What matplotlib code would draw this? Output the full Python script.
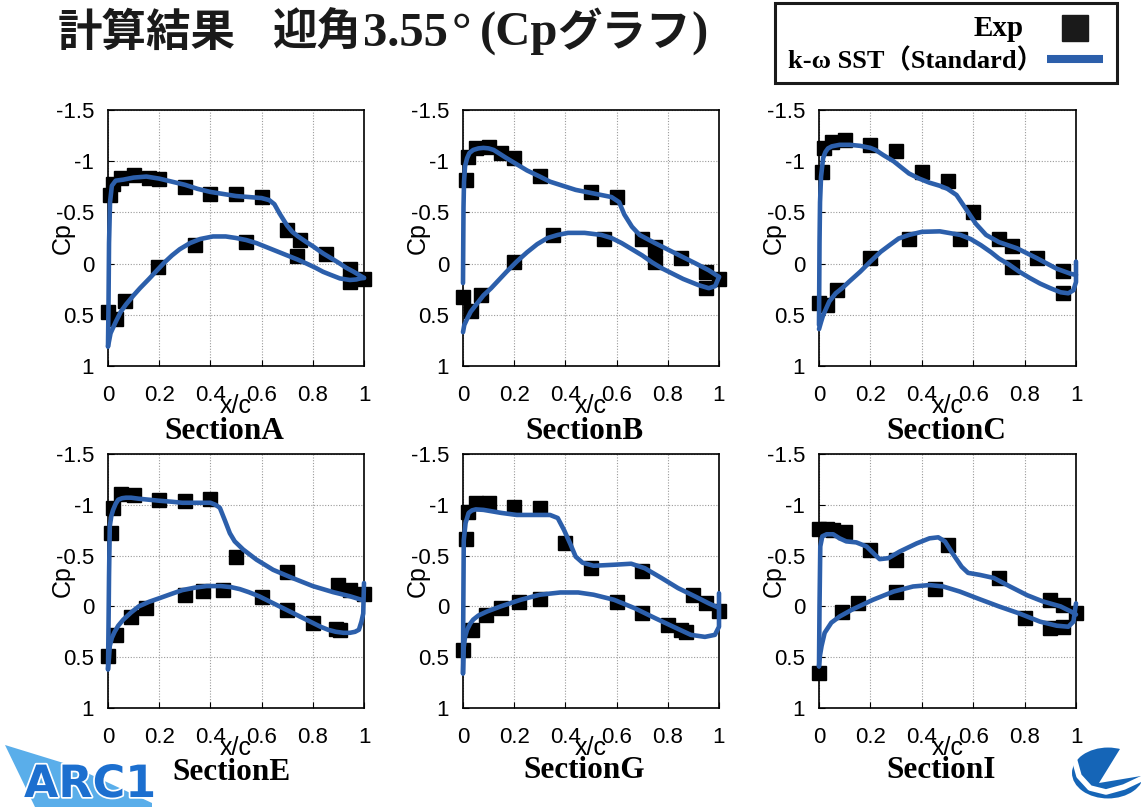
import matplotlib
matplotlib.use("Agg")
import matplotlib.pyplot as plt
import matplotlib.patheffects as pe
from matplotlib.patches import Rectangle, Circle, Polygon
from matplotlib.lines import Line2D

# ---- data ----
A_exp_x = [0.007, 0.02, 0.05, 0.10, 0.16, 0.20, 0.30, 0.40, 0.50, 0.60, 0.70, 0.75, 0.85, 0.945, 1.0,
           0.0, 0.03, 0.065, 0.195, 0.34, 0.54, 0.74, 0.945]
A_exp_cp = [-0.67, -0.78, -0.84, -0.87, -0.84, -0.83, -0.75, -0.68, -0.68, -0.65, -0.33, -0.23, -0.09, 0.05, 0.15,
            0.47, 0.54, 0.37, 0.03, -0.18, -0.21, -0.07, 0.18]
A_up_x = [0.0, 0.002, 0.004, 0.008, 0.015, 0.03, 0.06, 0.10, 0.15, 0.20, 0.25, 0.30, 0.35, 0.40, 0.45, 0.50,
          0.55, 0.60, 0.63, 0.65, 0.67, 0.70, 0.72, 0.74, 0.775, 0.80, 0.84, 0.88, 0.906, 0.93, 0.96, 0.98, 1.0]
A_up_cp = [0.81, 0.4, -0.2, -0.6, -0.76, -0.81, -0.82, -0.84, -0.85, -0.83, -0.80, -0.77, -0.73, -0.70, -0.68,
           -0.66, -0.65, -0.64, -0.62, -0.58, -0.49, -0.37, -0.31, -0.27, -0.21, -0.17, -0.10, -0.04, 0.0, 0.04,
           0.08, 0.11, 0.14]
A_lo_x = [0.0, 0.01, 0.03, 0.05, 0.07, 0.10, 0.125, 0.16, 0.19, 0.22, 0.25, 0.28, 0.32, 0.36, 0.41, 0.46, 0.50,
          0.54, 0.58, 0.62, 0.66, 0.70, 0.74, 0.776, 0.81, 0.84, 0.87, 0.906, 0.945, 0.97, 0.985, 1.0]
A_lo_cp = [0.81, 0.68, 0.57, 0.47, 0.40, 0.31, 0.24, 0.15, 0.07, -0.01, -0.08, -0.14, -0.20, -0.24, -0.265,
           -0.265, -0.25, -0.23, -0.20, -0.16, -0.12, -0.08, -0.04, 0.0, 0.04, 0.08, 0.11, 0.145, 0.16, 0.155,
           0.145, 0.14]

B_exp_x = [0.01, 0.02, 0.05, 0.10, 0.15, 0.20, 0.30, 0.50, 0.60, 0.70, 0.75, 0.85, 0.95, 1.0,
           0.0, 0.03, 0.07, 0.20, 0.35, 0.55, 0.75, 0.95]
B_exp_cp = [-0.815, -1.04, -1.125, -1.14, -1.08, -1.03, -0.86, -0.70, -0.65, -0.245, -0.16, -0.05, 0.08, 0.146,
            0.33, 0.46, 0.31, -0.02, -0.28, -0.24, -0.02, 0.24]
B_up_x = [0.0, 0.001, 0.002, 0.004, 0.008, 0.016, 0.025, 0.04, 0.06, 0.08, 0.10, 0.12, 0.145, 0.17, 0.21, 0.25,
          0.30, 0.34, 0.39, 0.44, 0.51, 0.58, 0.61, 0.63, 0.66, 0.69, 0.72, 0.75, 0.79, 0.83, 0.87, 0.91, 0.96, 1.0]
B_up_cp = [0.19, -0.2, -0.55, -0.8, -0.95, -1.03, -1.08, -1.11, -1.125, -1.13, -1.125, -1.11, -1.07, -1.03,
           -0.97, -0.91, -0.85, -0.80, -0.76, -0.72, -0.685, -0.65, -0.60, -0.48, -0.36, -0.28, -0.24, -0.20,
           -0.15, -0.10, -0.05, 0.0, 0.065, 0.13]
B_lo_x = [0.0, 0.005, 0.016, 0.03, 0.055, 0.08, 0.11, 0.14, 0.17, 0.21, 0.25, 0.29, 0.33, 0.37, 0.41, 0.475,
          0.54, 0.58, 0.62, 0.66, 0.70, 0.74, 0.78, 0.82, 0.86, 0.89, 0.92, 0.96, 0.985, 1.0]
B_lo_cp = [0.67, 0.60, 0.54, 0.47, 0.39, 0.31, 0.24, 0.16, 0.08, -0.02, -0.11, -0.19, -0.25, -0.28, -0.30, -0.30,
           -0.28, -0.25, -0.20, -0.14, -0.08, -0.01, 0.05, 0.10, 0.15, 0.18, 0.21, 0.24, 0.22, 0.13]

C_exp_x = [0.01, 0.02, 0.05, 0.10, 0.20, 0.30, 0.40, 0.50, 0.60, 0.70, 0.75, 0.85, 0.95,
           0.0, 0.03, 0.07, 0.20, 0.35, 0.55, 0.75, 0.95]
C_exp_cp = [-0.897, -1.125, -1.19, -1.21, -1.16, -1.10, -0.89, -0.81, -0.50, -0.24, -0.17, -0.05, 0.075,
            0.38, 0.40, 0.26, -0.05, -0.24, -0.24, 0.03, 0.29]
C_up_x = [0.0, 0.002, 0.004, 0.008, 0.016, 0.025, 0.035, 0.05, 0.08, 0.12, 0.16, 0.20, 0.22, 0.25, 0.29, 0.32,
          0.35, 0.39, 0.43, 0.47, 0.50, 0.535, 0.57, 0.61, 0.65, 0.70, 0.77, 0.85, 0.925, 0.98, 1.0]
C_up_cp = [0.60, -0.2, -0.6, -0.85, -1.03, -1.09, -1.125, -1.145, -1.16, -1.16, -1.15, -1.13, -1.11, -1.06,
           -1.0, -0.94, -0.88, -0.83, -0.79, -0.76, -0.73, -0.67, -0.54, -0.39, -0.28, -0.21, -0.15, -0.05, 0.05,
           0.10, 0.11]
C_lo_x = [0.0, 0.008, 0.016, 0.04, 0.065, 0.09, 0.12, 0.16, 0.20, 0.24, 0.28, 0.31, 0.35, 0.40, 0.47, 0.55,
          0.59, 0.63, 0.67, 0.70, 0.74, 0.78, 0.82, 0.86, 0.90, 0.94, 0.97, 0.99, 1.0, 1.0]
C_lo_cp = [0.64, 0.57, 0.505, 0.37, 0.29, 0.24, 0.17, 0.08, -0.02, -0.115, -0.19, -0.245, -0.28, -0.31, -0.315,
           -0.28, -0.24, -0.18, -0.11, -0.05, 0.01, 0.08, 0.14, 0.195, 0.24, 0.28, 0.29, 0.26, 0.18, -0.02]

E_exp_x = [0.01, 0.02, 0.05, 0.10, 0.20, 0.30, 0.40, 0.50, 0.70, 0.90, 0.945, 1.0,
           0.0, 0.03, 0.09, 0.15, 0.30, 0.37, 0.45, 0.60, 0.70, 0.80, 0.89, 0.905]
E_exp_cp = [-0.727, -0.966, -1.107, -1.10, -1.05, -1.04, -1.06, -0.49, -0.34, -0.21, -0.16, -0.12,
            0.49, 0.28, 0.10, 0.017, -0.114, -0.147, -0.163, -0.097, 0.04, 0.16, 0.22, 0.23]
E_up_x = [0.0, 0.002, 0.004, 0.007, 0.013, 0.02, 0.03, 0.04, 0.055, 0.07, 0.09, 0.12, 0.16, 0.20, 0.25, 0.29,
          0.33, 0.36, 0.40, 0.42, 0.437, 0.456, 0.476, 0.495, 0.528, 0.58, 0.645, 0.72, 0.80, 0.88, 0.945, 0.99]
E_up_cp = [0.62, 0.2, -0.3, -0.79, -0.89, -0.95, -1.01, -1.05, -1.065, -1.07, -1.07, -1.06, -1.05, -1.04, -1.03,
           -1.02, -1.02, -1.02, -1.02, -1.0, -0.97, -0.85, -0.72, -0.64, -0.56, -0.46, -0.36, -0.28, -0.20, -0.14,
           -0.10, -0.065]
E_lo_x = [0.0, 0.004, 0.007, 0.015, 0.026, 0.04, 0.06, 0.09, 0.12, 0.16, 0.20, 0.25, 0.29, 0.34, 0.385, 0.44,
          0.48, 0.515, 0.55, 0.59, 0.63, 0.67, 0.71, 0.75, 0.79, 0.83, 0.86, 0.89, 0.92, 0.945, 0.965, 0.98, 0.99,
          0.997, 1.0]
E_lo_cp = [0.62, 0.5, 0.39, 0.31, 0.25, 0.19, 0.13, 0.06, 0.0, -0.045, -0.08, -0.125, -0.16, -0.185, -0.20,
           -0.20, -0.19, -0.17, -0.14, -0.10, -0.05, 0.0, 0.05, 0.10, 0.15, 0.20, 0.23, 0.25, 0.26, 0.26, 0.25,
           0.23, 0.15, 0.07, -0.23]

G_exp_x = [0.01, 0.02, 0.05, 0.10, 0.20, 0.30, 0.40, 0.50, 0.70, 0.90, 0.95, 1.0,
           0.0, 0.035, 0.09, 0.15, 0.22, 0.30, 0.60, 0.70, 0.80, 0.85, 0.87]
G_exp_cp = [-0.66, -0.93, -1.015, -1.015, -0.98, -0.966, -0.62, -0.38, -0.353, -0.114, -0.03, 0.05,
            0.43, 0.237, 0.08, 0.017, -0.04, -0.074, -0.04, 0.066, 0.18, 0.23, 0.256]
G_up_x = [0.0, 0.001, 0.003, 0.01, 0.022, 0.035, 0.05, 0.08, 0.15, 0.21, 0.28, 0.34, 0.37, 0.395, 0.42, 0.44,
          0.467, 0.51, 0.59, 0.657, 0.71, 0.775, 0.84, 0.905, 0.96, 0.995]
G_up_cp = [0.66, 0.1, -0.65, -0.82, -0.92, -0.945, -0.955, -0.95, -0.92, -0.90, -0.90, -0.90, -0.87, -0.75,
           -0.61, -0.49, -0.43, -0.40, -0.41, -0.42, -0.376, -0.28, -0.18, -0.10, -0.03, 0.01]
G_lo_x = [0.0, 0.003, 0.008, 0.016, 0.028, 0.04, 0.06, 0.094, 0.147, 0.225, 0.30, 0.38, 0.45, 0.51, 0.59,
          0.67, 0.75, 0.83, 0.89, 0.945, 0.984, 1.0, 1.0]
G_lo_cp = [0.66, 0.40, 0.30, 0.23, 0.17, 0.13, 0.09, 0.05, 0.0, -0.065, -0.115, -0.137, -0.137, -0.115,
           -0.065, 0.017, 0.115, 0.21, 0.28, 0.30, 0.28, 0.20, -0.13]

I_exp_x = [0.0, 0.03, 0.055, 0.10, 0.20, 0.30, 0.50, 0.70, 0.90, 0.95, 1.0,
           0.0, 0.09, 0.15, 0.30, 0.45, 0.80, 0.90, 0.95]
I_exp_cp = [-0.76, -0.76, -0.75, -0.73, -0.56, -0.46, -0.60, -0.28, -0.065, -0.016, 0.066,
            0.66, 0.06, -0.03, -0.146, -0.17, 0.116, 0.21, 0.20]
I_up_x = [0.0, 0.002, 0.005, 0.013, 0.03, 0.055, 0.08, 0.106, 0.145, 0.185, 0.217, 0.236, 0.27, 0.314, 0.38,
          0.43, 0.464, 0.49, 0.52, 0.555, 0.58, 0.626, 0.68, 0.74, 0.81, 0.87, 0.94, 0.98, 1.0]
I_up_cp = [0.59, 0.0, -0.59, -0.69, -0.71, -0.71, -0.67, -0.64, -0.63, -0.59, -0.51, -0.465, -0.475, -0.54,
           -0.62, -0.67, -0.68, -0.64, -0.52, -0.39, -0.33, -0.31, -0.28, -0.20, -0.11, -0.05, 0.0, 0.05, 0.08]
I_lo_x = [0.0, 0.004, 0.01, 0.022, 0.048, 0.08, 0.13, 0.21, 0.29, 0.366, 0.43, 0.483, 0.548, 0.626, 0.70,
          0.78, 0.86, 0.925, 0.97, 0.99, 1.0]
I_lo_cp = [0.59, 0.48, 0.39, 0.26, 0.16, 0.10, 0.03, -0.065, -0.146, -0.196, -0.21, -0.196, -0.146, -0.07,
           0.0, 0.07, 0.15, 0.19, 0.20, 0.15, -0.03]

sections = ["SectionA", "SectionB", "SectionC", "SectionE", "SectionG", "SectionI"]
xticks = [0, 0.2, 0.4, 0.6, 0.8, 1]
xtick_labels = ["0", "0.2", "0.4", "0.6", "0.8", "1"]
yticks = [-1.5, -1, -0.5, 0, 0.5, 1]
ytick_labels = ["-1.5", "-1", "-0.5", "0", "0.5", "1"]

panels = [
    (A_exp_x, A_exp_cp, A_up_x, A_up_cp, A_lo_x, A_lo_cp),
    (B_exp_x, B_exp_cp, B_up_x, B_up_cp, B_lo_x, B_lo_cp),
    (C_exp_x, C_exp_cp, C_up_x, C_up_cp, C_lo_x, C_lo_cp),
    (E_exp_x, E_exp_cp, E_up_x, E_up_cp, E_lo_x, E_lo_cp),
    (G_exp_x, G_exp_cp, G_up_x, G_up_cp, G_lo_x, G_lo_cp),
    (I_exp_x, I_exp_cp, I_up_x, I_up_cp, I_lo_x, I_lo_cp),
]

W, H = 1141, 807
BLUE = "#2c5fab"
SANS = "Liberation Sans"
SERIF = ["Liberation Serif", "Noto Sans CJK JP"]
CJK = ["Noto Sans CJK JP", "DejaVu Sans"]


def fx(px):
    return px / W


def fy(py):
    return 1 - py / H


fig = plt.figure(figsize=(W / 100, H / 100), dpi=100)
fig.patch.set_facecolor("white")

# axes placement in pixels (left, top, width, height)
boxes = [(108, 110, 256, 256), (463, 110, 256, 256), (819, 110, 257, 256),
         (108, 454, 256, 254), (463, 454, 256, 254), (819, 454, 257, 254)]
title_pos = [(224, 432), (584, 432), (946, 432), (232, 773), (584, 771), (941, 771)]

for (l, t, w, h), data, name, (tx, ty) in zip(boxes, panels, sections, title_pos):
    ex, ecp, ux, ucp, lx, lcp = data
    ax = fig.add_axes([fx(l), fy(t + h), w / W, h / H])
    ax.plot(ux, ucp, color=BLUE, lw=3.3, solid_capstyle="round", solid_joinstyle="round", clip_on=False, zorder=3)
    ax.plot(lx, lcp, color=BLUE, lw=3.3, solid_capstyle="round", solid_joinstyle="round", clip_on=False, zorder=3)
    ax.plot(ex, ecp, "s", color="black", ms=9.5, clip_on=False, zorder=2)
    ax.set_xlim(0, 1)
    ax.set_ylim(1, -1.5)
    ax.set_xticks(xticks)
    ax.set_xticklabels(xtick_labels, fontsize=16, family=SANS)
    ax.set_yticks(yticks)
    ax.set_yticklabels(ytick_labels, fontsize=16, family=SANS)
    ax.tick_params(direction="in", length=4, width=0.8, pad=10)
    ax.tick_params(axis="x", pad=14)
    ax.grid(True, color="#9a9a9a", lw=0.8, ls=(0, (1, 1.5)))
    ax.set_axisbelow(True)
    for s in ax.spines.values():
        s.set_linewidth(1.2)
    ax.text(0.5, -40 / h, "x/c", transform=ax.transAxes, ha="center", va="center",
            fontsize=18, family=SANS)
    ax.text(-45 / w, 0.5, "Cp", transform=ax.transAxes, ha="center", va="center",
            rotation=90, fontsize=18, family=SANS)
    fig.text(fx(tx), fy(ty), name, ha="center", va="center", fontsize=22.5,
             family=SERIF, weight="bold")

# title, set piece by piece (larger serif Latin, like the reference); each piece
# starts where the previous one ends plus a small gap
title_parts = [
    ("計算結果", CJK, 32, 0),
    ("迎角", CJK, 32, 36),
    ("3.55", SERIF, 35, 2),
    ("°", SERIF, 35, 4),
    ("(Cp", SERIF, 35, 8),
    ("グラフ", CJK, 32, 0),
    (")", SERIF, 35, 0),
]
renderer = fig.canvas.get_renderer()
cur_x = 58
for txt, fam, size, gap in title_parts:
    cur_x += gap
    t = fig.text(fx(cur_x), fy(46), txt, ha="left", va="baseline", fontsize=size, family=fam,
                 weight="bold", color="#1a1a1a")
    cur_x = t.get_window_extent(renderer).x1

# legend box (top right)
fig.add_artist(Rectangle((fx(775), fy(83)), 342 / W, 80 / H, transform=fig.transFigure,
                         facecolor="white", edgecolor="#1a1a1a", lw=2.2))
fig.text(fx(1024), fy(28), "Exp", ha="right", va="center", fontsize=21, family=SERIF, weight="bold")
fig.add_artist(Line2D([fx(1075)], [fy(28)], transform=fig.transFigure, marker="s",
                      color="#1a1a1a", ms=18.5, ls="none"))
fig.text(fx(1043), fy(61), "k-ω SST（Standard）", ha="right", va="center", fontsize=19,
         family=SERIF, weight="bold")
fig.add_artist(Line2D([fx(1047), fx(1103)], [fy(59), fy(59)], transform=fig.transFigure,
                      color=BLUE, lw=5.8, solid_capstyle="butt"))

# logos (rough stand-ins)
fig.add_artist(Polygon([(fx(5), fy(745)), (fx(70), fy(765)), (fx(152), fy(803)), (fx(152), fy(807)),
                        (fx(35), fy(807))], closed=True, transform=fig.transFigure,
                       facecolor="#5aaeea", edgecolor="none"))
fig.text(fx(24), fy(797), "ARC1", ha="left", va="baseline", fontsize=32, family="DejaVu Sans",
         weight="bold", color="#1c6fcf",
         path_effects=[pe.withStroke(linewidth=2.5, foreground="white")])
fig.add_artist(Circle((fx(1108), fy(773)), 36 / W, transform=fig.transFigure,
                      facecolor="#1565b7", edgecolor="none"))
fig.add_artist(Polygon([(fx(1128), fy(736)), (fx(1099), fy(783)), (fx(1141), fy(776)), (fx(1141), fy(736))],
                       closed=True, transform=fig.transFigure, facecolor="white", edgecolor="none"))
fig.add_artist(Line2D([fx(1074), fx(1079), fx(1090), fx(1106), fx(1124), fx(1141)],
                      [fy(758), fy(776), fy(788), fy(792), fy(787), fy(779)],
                      transform=fig.transFigure, color="white", lw=4))

fig.savefig("out.png", dpi=100)
